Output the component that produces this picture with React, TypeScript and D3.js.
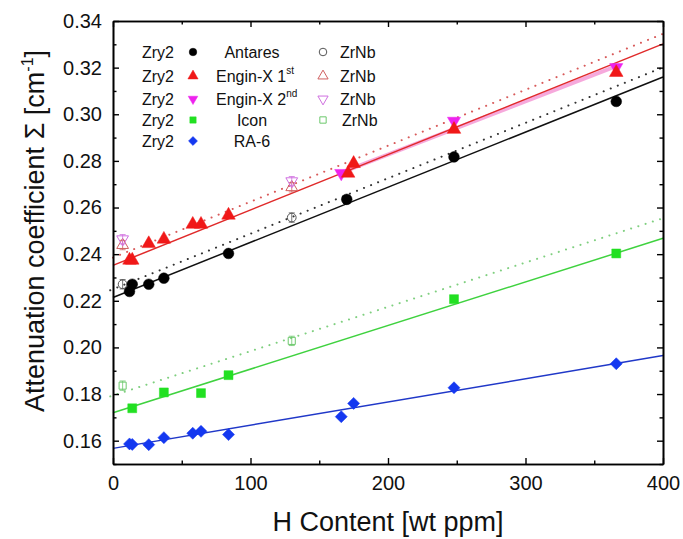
import * as d3 from "d3";
import { useEffect, useRef } from "react";

// H content [wt ppm] and attenuation coefficient [cm^-1]
const antaresX = [12, 14, 26, 37, 84, 170, 248, 366];
const antaresY = [0.224, 0.2271, 0.2271, 0.2297, 0.2403, 0.2635, 0.2817, 0.3055];

const engin1X = [12, 14, 26, 37, 58, 64, 84, 171, 175, 248, 366];
const engin1Y = [0.2374, 0.2374, 0.2445, 0.2464, 0.2528, 0.2528, 0.2567, 0.2747, 0.2789, 0.2935, 0.3179];

const engin2X = [166, 248, 366];
const engin2Y = [0.2747, 0.2971, 0.3201];

const iconX = [14, 37, 64, 84, 248, 366];
const iconY = [0.1739, 0.1807, 0.1804, 0.1881, 0.2207, 0.2403];

const ra6X = [12, 14, 26, 37, 58, 64, 84, 166, 175, 248, 366];
const ra6Y = [0.1586, 0.1584, 0.1583, 0.1613, 0.1632, 0.164, 0.1626, 0.1703, 0.176, 0.1827, 0.193];

// ZrNb samples (open symbols)
const zrnbX = [7, 130];
const zrnbAntaresY = [0.2271, 0.2557];
const zrnbEngin1Y = [0.2439, 0.2687];
const zrnbEngin2Y = [0.2464, 0.2713];
const zrnbIconY = [0.1836, 0.2028];

// fitted lines: [x start, x end] and [y start, y end]
const fitAntares = { x: [0, 400], y: [0.2214, 0.316] };
const fitEngin1 = { x: [0, 400], y: [0.2352, 0.3302] };
const fitEngin2 = { x: [166, 366], y: [0.275, 0.3206] };
const fitIcon = { x: [0, 400], y: [0.172, 0.2468] };
const fitRa6 = { x: [0, 400], y: [0.1567, 0.1965] };
const fitZrAntares = { x: [-2, 400], y: [0.2245, 0.3201] };
const fitZrEngin = { x: [0, 400], y: [0.2385, 0.3345] };
const fitZrIcon = { x: [-2, 400], y: [0.179, 0.2554] };

const xTicks = [0, 100, 200, 300, 400];
const xMinor = [50, 150, 250, 350];
const yTicks = [0.16, 0.18, 0.2, 0.22, 0.24, 0.26, 0.28, 0.3, 0.32, 0.34];
const yMinor = [0.15, 0.17, 0.19, 0.21, 0.23, 0.25, 0.27, 0.29, 0.31, 0.33];

const legendNames = ["Antares", "Engin-X 1", "Engin-X 2", "Icon", "RA-6"];
const legendSup = ["", "st", "nd", "", ""];

const FONT = "'Liberation Sans', Arial, sans-serif";

const Chart = () => {
    const svgRef = useRef(null);

    useEffect(() => {
        const svg = d3.select(svgRef.current);
        const plot = { left: 113, right: 663, top: 21, bottom: 464 };

        svg.selectAll("*").remove();

        const x = d3.scaleLinear().domain([0, 400]).range([plot.left, plot.right]);
        const y = d3.scaleLinear().domain([0.15, 0.34]).range([plot.bottom, plot.top]);

        const sym = (type, size, rot = 0) => {
            const p = d3.symbol().type(type).size(size)();
            return { p, rot };
        };
        const shapes = {
            circle: (s) => sym(d3.symbolCircle, s),
            up: (s) => sym(d3.symbolTriangle, s),
            down: (s) => sym(d3.symbolTriangle, s, 180),
            square: (s) => sym(d3.symbolSquare, s),
            diamond: (s) => sym(d3.symbolSquare, s, 45),
        };

        const drawMarker = (g, cx, cy, shape, size, fill, stroke) => {
            const { p, rot } = shapes[shape](size);
            g.append("path")
                .attr("d", p)
                .attr("transform", `translate(${cx},${cy}) rotate(${rot})`)
                .attr("fill", fill)
                .attr("stroke", stroke)
                .attr("stroke-width", fill === "none" ? 1 : 0.5);
        };

        // lines
        const line = d3.line().x(d => x(d[0])).y(d => y(d[1]));
        const drawFit = (fit, color, dotted, w = 1.5, opacity = 1) => {
            svg.append("path")
                .datum([[fit.x[0], fit.y[0]], [fit.x[1], fit.y[1]]])
                .attr("d", line)
                .attr("fill", "none")
                .attr("stroke", color)
                .attr("stroke-width", dotted ? 2 : w)
                .attr("stroke-opacity", opacity)
                .attr("stroke-linecap", dotted ? "round" : "butt")
                .attr("stroke-dasharray", dotted ? "0.1 7.5" : null);
        };

        drawFit(fitZrAntares, "#333", true);
        drawFit(fitZrEngin, "#d85a5a", true);
        drawFit(fitZrIcon, "#7fcf7f", true);
        drawFit(fitEngin2, "#f5a0d8", false, 4, 0.9);
        drawFit(fitAntares, "#111", false);
        drawFit(fitEngin1, "#e02a2a", false);
        drawFit(fitIcon, "#3fd23f", false);
        drawFit(fitRa6, "#2038c8", false);

        // open ZrNb points with small error bars
        const openG = svg.append("g");
        const openSets = [
            { ys: zrnbAntaresY, shape: "circle", color: "#555", size: 60 },
            { ys: zrnbEngin1Y, shape: "up", color: "#d06060", size: 60 },
            { ys: zrnbEngin2Y, shape: "down", color: "#d070e0", size: 60 },
            { ys: zrnbIconY, shape: "square", color: "#6cc86c", size: 50 },
        ];
        openSets.forEach(set => {
            set.ys.forEach((v, i) => {
                const cx = x(zrnbX[i]);
                const cy = y(v);
                const eb = y(v - 0.002) - cy;
                openG.append("line").attr("x1", cx).attr("x2", cx).attr("y1", cy - eb).attr("y2", cy + eb)
                    .attr("stroke", set.color).attr("stroke-width", 0.8);
                openG.append("line").attr("x1", cx - 3).attr("x2", cx + 3).attr("y1", cy - eb).attr("y2", cy - eb)
                    .attr("stroke", set.color).attr("stroke-width", 0.8);
                openG.append("line").attr("x1", cx - 3).attr("x2", cx + 3).attr("y1", cy + eb).attr("y2", cy + eb)
                    .attr("stroke", set.color).attr("stroke-width", 0.8);
                drawMarker(openG, cx, cy, set.shape, set.size, "none", set.color);
            });
        });

        // filled Zry2 points
        const ptsG = svg.append("g");
        const filledSets = [
            { xs: ra6X, ys: ra6Y, shape: "diamond", color: "#1438f0", size: 72 },
            { xs: iconX, ys: iconY, shape: "square", color: "#22e022", size: 80 },
            { xs: antaresX, ys: antaresY, shape: "circle", color: "#000", size: 90 },
            { xs: engin2X, ys: engin2Y, shape: "down", color: "#ee22ee", size: 75 },
            { xs: engin1X, ys: engin1Y, shape: "up", color: "#f01818", size: 80 },
        ];
        filledSets.forEach(set => {
            set.xs.forEach((v, i) => drawMarker(ptsG, x(v), y(set.ys[i]), set.shape, set.size, set.color, set.color));
        });

        // axes
        const styleAxis = (g, labels) => {
            g.select(".domain").attr("stroke", "#000").attr("stroke-width", 1.6);
            g.selectAll(".tick line").attr("stroke", "#000").attr("stroke-width", 1.4);
            g.selectAll("text").attr("font-family", FONT).attr("font-size", 20).attr("fill", "#111");
            if (!labels) g.selectAll("text").remove();
        };

        const bottom = svg.append("g").attr("transform", `translate(0,${plot.bottom})`)
            .call(d3.axisBottom(x).tickValues(xTicks).tickSize(-6).tickSizeOuter(0).tickPadding(12).tickFormat(d3.format("d")));
        styleAxis(bottom, true);
        const bottomMinor = svg.append("g").attr("transform", `translate(0,${plot.bottom})`)
            .call(d3.axisBottom(x).tickValues(xMinor).tickSize(-3.5).tickSizeOuter(0));
        styleAxis(bottomMinor, false);
        const top = svg.append("g").attr("transform", `translate(0,${plot.top})`)
            .call(d3.axisTop(x).tickValues(xTicks).tickSize(-6).tickSizeOuter(0));
        styleAxis(top, false);
        const topMinor = svg.append("g").attr("transform", `translate(0,${plot.top})`)
            .call(d3.axisTop(x).tickValues(xMinor).tickSize(-3.5).tickSizeOuter(0));
        styleAxis(topMinor, false);

        const left = svg.append("g").attr("transform", `translate(${plot.left},0)`)
            .call(d3.axisLeft(y).tickValues(yTicks).tickSize(-6).tickSizeOuter(0).tickPadding(11).tickFormat(d3.format(".2f")));
        styleAxis(left, true);
        const leftMinor = svg.append("g").attr("transform", `translate(${plot.left},0)`)
            .call(d3.axisLeft(y).tickValues(yMinor).tickSize(-3.5).tickSizeOuter(0));
        styleAxis(leftMinor, false);
        const right = svg.append("g").attr("transform", `translate(${plot.right},0)`)
            .call(d3.axisRight(y).tickValues(yTicks).tickSize(-6).tickSizeOuter(0));
        styleAxis(right, false);
        const rightMinor = svg.append("g").attr("transform", `translate(${plot.right},0)`)
            .call(d3.axisRight(y).tickValues(yMinor).tickSize(-3.5).tickSizeOuter(0));
        styleAxis(rightMinor, false);

        // axis titles
        svg.append("text")
            .attr("x", (plot.left + plot.right) / 2)
            .attr("y", 531)
            .attr("text-anchor", "middle")
            .attr("font-family", FONT)
            .attr("font-size", 27)
            .attr("fill", "#111")
            .text("H Content [wt ppm]");

        const yTitle = svg.append("text")
            .attr("transform", `translate(44,231) rotate(-90)`)
            .attr("text-anchor", "middle")
            .attr("font-family", FONT)
            .attr("font-size", 27)
            .attr("fill", "#111");
        yTitle.append("tspan").text("Attenuation coefficient \u03A3 [cm");
        yTitle.append("tspan").attr("font-size", 16).attr("dy", -11).text("-1");
        yTitle.append("tspan").attr("dy", 11).text("]");

        // legend
        const legendRows = [52, 76, 99, 120, 141];
        const legendFilled = [
            { shape: "circle", color: "#000", size: 45 },
            { shape: "up", color: "#f01818", size: 45 },
            { shape: "down", color: "#ee22ee", size: 40 },
            { shape: "square", color: "#22e022", size: 40 },
            { shape: "diamond", color: "#1438f0", size: 40 },
        ];
        const legendOpen = [
            { shape: "circle", color: "#555", size: 45 },
            { shape: "up", color: "#d06060", size: 45 },
            { shape: "down", color: "#d070e0", size: 45 },
            { shape: "square", color: "#6cc86c", size: 40 },
        ];
        const lg = svg.append("g").attr("font-family", FONT).attr("font-size", 16).attr("fill", "#111");
        legendRows.forEach((ry, i) => {
            lg.append("text").attr("x", 142).attr("y", ry + 6).text("Zry2");
            drawMarker(lg, 193, ry, legendFilled[i].shape, legendFilled[i].size, legendFilled[i].color, legendFilled[i].color);
            const t = lg.append("text").attr("y", ry + 6);
            if (legendSup[i]) {
                t.attr("x", 216);
                t.append("tspan").text(legendNames[i]);
                t.append("tspan").attr("font-size", 10).attr("dy", -8).text(legendSup[i]);
            } else {
                t.attr("x", 252).attr("text-anchor", "middle").text(legendNames[i]);
            }
            if (i < legendOpen.length) {
                drawMarker(lg, 323, ry, legendOpen[i].shape, legendOpen[i].size, "none", legendOpen[i].color);
                lg.append("text").attr("x", i === 3 ? 342 : 340).attr("y", ry + 6).text("ZrNb");
            }
        });
    }, []);

    return <svg ref={svgRef} width={683} height={539} style={{ position: "absolute", left: 0, top: 0, background: "#fff" }} />;
};

export default function App() {
    return <Chart />;
}
